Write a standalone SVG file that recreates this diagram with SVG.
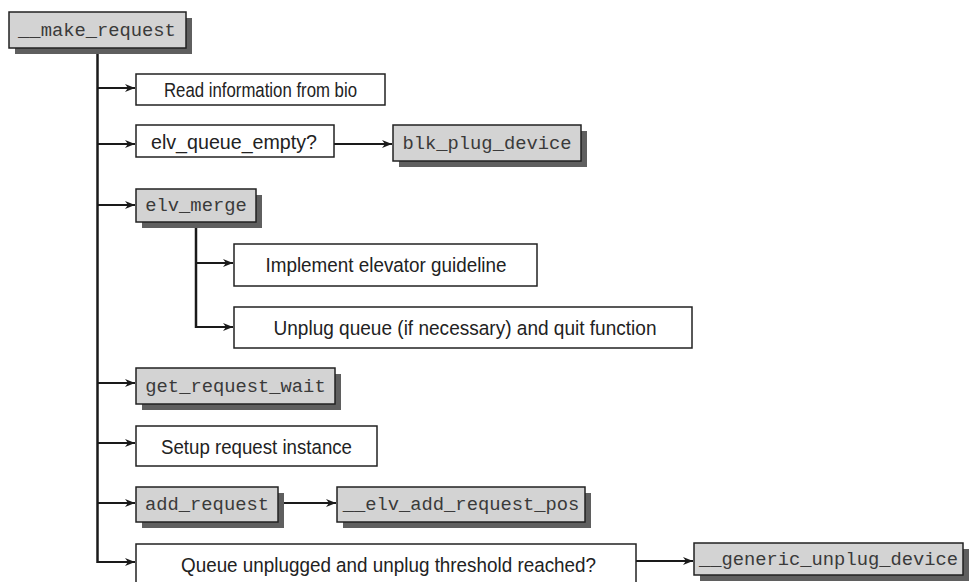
<svg xmlns="http://www.w3.org/2000/svg" width="976" height="582" viewBox="0 0 976 582">
<style>
.bg{fill:#ffffff}
.w{fill:#ffffff;stroke:#222;stroke-width:1.5}
.g{fill:#d3d3d3;stroke:#222;stroke-width:1.5}
.sh{fill:#5f5f5f}
.s{font-family:"Liberation Sans",Arial,sans-serif;font-size:20.5px;fill:#222;text-anchor:middle}
.m{font-family:"Liberation Mono","Courier New",monospace;font-size:18.8px;fill:#3a3a3a;text-anchor:middle}
.trunk{stroke:#1a1a1a;stroke-width:2.5;fill:none}
.c{stroke:#1a1a1a;stroke-width:2;fill:none;marker-end:url(#ah)}
</style>
<defs>
<marker id="ah" markerUnits="userSpaceOnUse" markerWidth="11" markerHeight="9" refX="10" refY="4" orient="auto">
<path d="M0,0 L10,4 L0,8 L3,4 z" fill="#1a1a1a"/>
</marker>
</defs>
<rect class="bg" x="0" y="0" width="976" height="582"/>

<g id="connectors">
<path class="trunk" d="M97.5,48 V563"/>
<path class="trunk" d="M196,222 V328"/>
<path class="c" d="M97.5,88 H135"/>
<path class="c" d="M97.5,144 H135"/>
<path class="c" d="M334,144 H392"/>
<path class="c" d="M97.5,205 H135"/>
<path class="c" d="M196,263 H233"/>
<path class="c" d="M196,327 H233"/>
<path class="c" d="M97.5,383 H135"/>
<path class="c" d="M97.5,443 H135"/>
<path class="c" d="M97.5,503 H135"/>
<path class="c" d="M278,503 H336"/>
<path class="c" d="M97.5,562 H135"/>
<path class="c" d="M636,561 H693"/>
</g>

<g id="make_request">
<rect class="sh" x="15" y="18" width="177" height="36"/>
<rect class="g" x="9" y="12" width="177" height="36"/>
<text class="m" x="97" y="36">__make_request</text>
</g>

<g id="read_info">
<rect class="w" x="136" y="74" width="249" height="31"/>
<text class="s" x="260.5" y="97" textLength="193" lengthAdjust="spacingAndGlyphs">Read information from bio</text>
</g>

<g id="elv_queue_empty">
<rect class="w" x="136" y="125" width="198" height="32"/>
<text class="s" x="234" y="148.5" textLength="166" lengthAdjust="spacingAndGlyphs">elv_queue_empty?</text>
</g>

<g id="blk_plug_device">
<rect class="sh" x="399" y="131" width="188" height="36"/>
<rect class="g" x="393" y="125" width="188" height="36"/>
<text class="m" x="487" y="149">blk_plug_device</text>
</g>

<g id="elv_merge">
<rect class="sh" x="142" y="195" width="120" height="33"/>
<rect class="g" x="136" y="189" width="120" height="33"/>
<text class="m" x="196" y="211">elv_merge</text>
</g>

<g id="implement_elevator">
<rect class="w" x="234" y="244" width="303" height="42"/>
<text class="s" x="386" y="272" textLength="241" lengthAdjust="spacingAndGlyphs">Implement elevator guideline</text>
</g>

<g id="unplug_queue">
<rect class="w" x="234" y="307" width="458" height="41"/>
<text class="s" x="465" y="334.5" textLength="383" lengthAdjust="spacingAndGlyphs">Unplug queue (if necessary) and quit function</text>
</g>

<g id="get_request_wait">
<rect class="sh" x="142" y="374" width="199" height="36"/>
<rect class="g" x="136" y="368" width="199" height="36"/>
<text class="m" x="235.5" y="392">get_request_wait</text>
</g>

<g id="setup_request">
<rect class="w" x="136" y="426" width="241" height="40"/>
<text class="s" x="256.5" y="453.5" textLength="191" lengthAdjust="spacingAndGlyphs">Setup request instance</text>
</g>

<g id="add_request">
<rect class="sh" x="142" y="493" width="142" height="35"/>
<rect class="g" x="136" y="487" width="142" height="35"/>
<text class="m" x="207" y="510">add_request</text>
</g>

<g id="elv_add_request_pos">
<rect class="sh" x="343" y="493" width="248" height="35"/>
<rect class="g" x="337" y="487" width="248" height="35"/>
<text class="m" x="461" y="510">__elv_add_request_pos</text>
</g>

<g id="queue_unplugged">
<rect class="w" x="136" y="544" width="500" height="44"/>
<text class="s" x="388.5" y="572" textLength="415" lengthAdjust="spacingAndGlyphs">Queue unplugged and unplug threshold reached?</text>
</g>

<g id="generic_unplug_device">
<rect class="sh" x="700" y="549" width="269" height="32"/>
<rect class="g" x="694" y="543" width="269" height="32"/>
<text class="m" x="828.5" y="565">__generic_unplug_device</text>
</g>
</svg>
